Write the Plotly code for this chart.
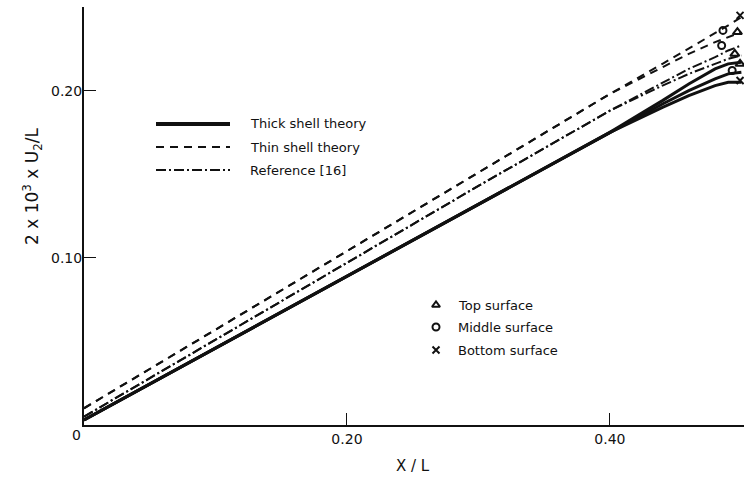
import plotly.graph_objects as go

# Axial position along the shell
x_vals = [0.0, 0.1, 0.2, 0.3, 0.4, 0.44, 0.46, 0.48, 0.49, 0.50]

# Thick shell theory (top / middle / bottom surfaces)
thick_top = [0.003, 0.046, 0.089, 0.132, 0.175, 0.194, 0.204, 0.213, 0.216, 0.217]
thick_mid = [0.003, 0.046, 0.089, 0.132, 0.175, 0.192, 0.200, 0.207, 0.210, 0.211]
thick_bot = [0.003, 0.046, 0.089, 0.132, 0.175, 0.190, 0.197, 0.203, 0.205, 0.205]

# Thin shell theory
thin_upper = [0.010, 0.057, 0.104, 0.151, 0.198, 0.216, 0.225, 0.234, 0.239, 0.244]
thin_lower = [0.010, 0.057, 0.104, 0.151, 0.198, 0.214, 0.222, 0.229, 0.232, 0.235]

# Reference [16]
ref_upper = [0.005, 0.051, 0.097, 0.143, 0.188, 0.205, 0.213, 0.220, 0.224, 0.227]
ref_lower = [0.005, 0.051, 0.097, 0.143, 0.188, 0.203, 0.210, 0.216, 0.219, 0.221]

# Surface markers near the free end
top_x = [0.497, 0.495, 0.499]
top_y = [0.235, 0.222, 0.216]
mid_x = [0.486, 0.485, 0.493]
mid_y = [0.236, 0.227, 0.212]
bot_x = [0.499, 0.499]
bot_y = [0.245, 0.206]

x_ticks = [0.2, 0.4]
x_tick_text = ["0.20", "0.40"]
y_ticks = [0.1, 0.2]
y_tick_text = ["0.10", "0.20"]

FONT = "DejaVu Sans"
BLACK = "#111111"

fig = go.Figure()

def add_line(y, dash, width):
    fig.add_trace(go.Scatter(x=x_vals, y=y, mode="lines",
                             line=dict(color=BLACK, width=width, dash=dash),
                             showlegend=False, hoverinfo="skip"))

for y in (thick_top, thick_mid, thick_bot):
    add_line(y, "solid", 3)
for y in (thin_upper, thin_lower):
    add_line(y, "8px,6px", 2)
for y in (ref_upper, ref_lower):
    add_line(y, "10px,3px,2px,3px", 2)

fig.add_trace(go.Scatter(x=top_x, y=top_y, mode="markers",
                         marker=dict(symbol="triangle-up-open", size=8, color=BLACK,
                                     line=dict(width=2, color=BLACK)),
                         showlegend=False, cliponaxis=False))
fig.add_trace(go.Scatter(x=mid_x, y=mid_y, mode="markers",
                         marker=dict(symbol="circle-open", size=7, color=BLACK,
                                     line=dict(width=2, color=BLACK)),
                         showlegend=False, cliponaxis=False))
fig.add_trace(go.Scatter(x=bot_x, y=bot_y, mode="markers",
                         marker=dict(symbol="x-thin-open", size=7, color=BLACK,
                                     line=dict(width=2, color=BLACK)),
                         showlegend=False, cliponaxis=False))

# Line-style key (pixel positions converted to paper coordinates)
W, H = 744, 483
L, R, T, B = 84, 0, 7, 58
pw, ph = W - L - R, H - T - B

def px(xp):
    return (xp - L) / pw

def py(yp):
    return (H - B - yp) / ph

def label(xp, yp, text, size=13, xanchor="left", angle=0):
    fig.add_annotation(xref="paper", yref="paper", x=px(xp), y=py(yp),
                       text=text, showarrow=False, xanchor=xanchor, yanchor="middle",
                       textangle=angle, font=dict(family=FONT, size=size, color=BLACK))

key_rows = [("Thick shell theory", "solid", 4, 124),
            ("Thin shell theory", "8px,6px", 2, 147),
            ("Reference [16]", "10px,3px,2px,3px", 2, 170)]
for text, dash, width, yp in key_rows:
    fig.add_shape(type="line", xref="paper", yref="paper",
                  x0=px(156), x1=px(230), y0=py(yp), y1=py(yp),
                  line=dict(color=BLACK, width=width, dash=dash))
    label(248, yp, text)

# Surface-marker key
marker_rows = [("Top surface", "triangle-up-open", 305),
               ("Middle surface", "circle-open", 327),
               ("Bottom surface", "x-thin-open", 350)]
for text, sym, yp in marker_rows:
    label(456, yp, text)
fig.add_trace(go.Scatter(x=[px(436)] * 3, y=[py(r[2]) for r in marker_rows],
                         xaxis="x2", yaxis="y2", mode="markers",
                         marker=dict(symbol=[r[1] for r in marker_rows], size=7,
                                     color=BLACK, line=dict(width=2, color=BLACK)),
                         showlegend=False, hoverinfo="skip"))

# Axis labels
label(76, 435, "0", size=14, xanchor="center")
label(413, 466, "X / L", size=15, xanchor="center")
label(33, 186, "2 x 10<sup>3</sup> x U<sub>2</sub>/L", size=17, xanchor="center", angle=-90)

fig.update_layout(
    width=W, height=H,
    margin=dict(l=L, r=R, t=T, b=B),
    paper_bgcolor="white", plot_bgcolor="white",
    showlegend=False,
    xaxis=dict(range=[0, 0.502], tickvals=x_ticks, ticktext=x_tick_text,
               ticks="inside", ticklen=12, tickwidth=1, tickcolor=BLACK,
               showline=True, linecolor=BLACK, linewidth=2, showgrid=False,
               zeroline=False, tickfont=dict(family=FONT, size=14, color=BLACK)),
    yaxis=dict(range=[0, 0.25], tickvals=y_ticks, ticktext=y_tick_text,
               ticks="inside", ticklen=12, tickwidth=1, tickcolor=BLACK,
               ticklabelstandoff=-3,
               showline=True, linecolor=BLACK, linewidth=2, showgrid=False,
               zeroline=False, tickfont=dict(family=FONT, size=14, color=BLACK)),
    xaxis2=dict(range=[0, 1], overlaying="x", visible=False, fixedrange=True),
    yaxis2=dict(range=[0, 1], overlaying="y", visible=False, fixedrange=True),
)

fig.write_html("out.html")
